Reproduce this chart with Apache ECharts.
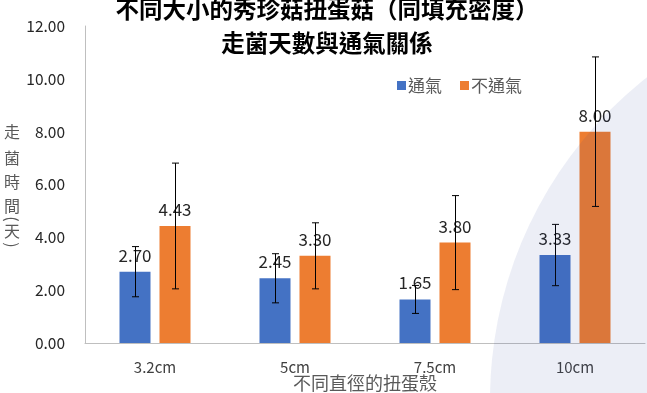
<!DOCTYPE html>
<html><head><meta charset="utf-8">
<style>html,body{margin:0;padding:0;background:#fff}#c{width:647px;height:393px}</style>
<script src="https://cdn.jsdelivr.net/npm/echarts@6/dist/echarts.min.js"></script>
</head><body><div id="c"></div>
<script>
const categories = ['3.2cm', '5cm', '7.5cm', '10cm'];
const ventilated = [2.70, 2.45, 1.65, 3.33];
const unventilated = [4.43, 3.30, 3.80, 8.00];
const ventilatedErr = [0.95, 0.93, 0.53, 1.16];
const unventilatedErr = [2.38, 1.25, 1.78, 2.83];
const yTicks = [0, 2, 4, 6, 8, 10, 12];
const seriesNames = ['通氣', '不通氣'];

const chart = echarts.init(document.getElementById('c'));
const BAR_W = 31, BAR_GAP = 9;
const font = '"Noto Sans CJK TC", "Noto Sans", sans-serif';

function errSeries(vals, errs, dir) {
  return {
    type: 'custom', z: 10, silent: true,
    data: vals.map((v, i) => [i, v - errs[i], v + errs[i]]),
    renderItem: function (params, api) {
      const lo = api.coord([api.value(0), api.value(1)]);
      const hi = api.coord([api.value(0), api.value(2)]);
      const x = Math.round(lo[0] + dir * (BAR_W + BAR_GAP) / 2) + 0.5;
      const cap = 3.5;
      const st = { stroke: '#000', lineWidth: 1 };
      return { type: 'group', children: [
        { type: 'line', shape: { x1: x, y1: hi[1], x2: x, y2: lo[1] }, style: st },
        { type: 'line', shape: { x1: x - cap, y1: hi[1], x2: x + cap, y2: hi[1] }, style: st },
        { type: 'line', shape: { x1: x - cap, y1: lo[1], x2: x + cap, y2: lo[1] }, style: st }
      ]};
    }
  };
}

const labelStyle = { show: true, position: 'top', distance: 8, fontSize: 17, color: '#262626', fontFamily: font,
  formatter: p => p.value.toFixed(2) };

// y-axis title written vertically; brackets are rotated to their vertical form
const yNameChars = [['走', 132, 0], ['菌', 158, 0], ['時', 182, 0], ['間', 206, 0], ['(', 219, -Math.PI / 2], ['天', 231, 0], [')', 245, -Math.PI / 2]];

const graphics = yNameChars.map(([ch, y, rot]) => ({
  type: 'text', x: 12, y: y, rotation: rot, silent: true,
  style: { text: ch, fontSize: 16, fill: '#595959', fontFamily: font, align: 'center', verticalAlign: 'middle' }
}));
graphics.push({
  type: 'circle', silent: true, z: 100,
  shape: { cx: 900, cy: 400, r: 410 },
  style: { fill: 'rgba(40,70,150,0.09)' }
});

chart.setOption({
  animation: false,
  title: {
    text: '不同大小的秀珍菇扭蛋菇（同填充密度）\n走菌天數與通氣關係',
    left: 322, textAlign: 'center', top: -13,
    textStyle: { fontSize: 23.5, fontWeight: 'bold', color: '#000', fontFamily: font, lineHeight: 34 }
  },
  legend: {
    data: seriesNames, left: 392, top: 72, itemWidth: 9, itemHeight: 9, itemGap: 18,
    icon: 'rect',
    textStyle: { fontSize: 17, color: '#595959', fontFamily: font, padding: [0, 0, 0, -3] }
  },
  grid: { left: 85, right: 2, top: 26, bottom: 50, outerBoundsMode: 'none', containLabel: false },
  xAxis: {
    type: 'category', data: categories,
    axisLine: { lineStyle: { color: '#bfbfbf', width: 1 } },
    axisTick: { show: false },
    axisLabel: { fontSize: 15, color: '#404040', fontFamily: font, margin: 17 },
    name: '不同直徑的扭蛋殼', nameLocation: 'middle', nameGap: 31, nameMoveOverlap: false,
    nameTextStyle: { fontSize: 18, color: '#595959', fontFamily: font, lineHeight: 18 }
  },
  yAxis: {
    type: 'value', min: yTicks[0], max: yTicks[yTicks.length - 1], interval: 2,
    splitLine: { show: false },
    axisLine: { show: true, lineStyle: { color: '#bfbfbf', width: 1 } },
    axisTick: { show: false },
    axisLabel: { fontSize: 15.5, color: '#262626', fontFamily: font, margin: 20, formatter: v => v.toFixed(2) }
  },
  graphic: graphics,
  series: [
    { name: seriesNames[0], type: 'bar', data: ventilated, barWidth: BAR_W, barGap: (BAR_GAP / BAR_W * 100) + '%',
      itemStyle: { color: '#4472C4' }, label: labelStyle },
    { name: seriesNames[1], type: 'bar', data: unventilated, barWidth: BAR_W,
      itemStyle: { color: '#ED7D31' }, label: labelStyle },
    errSeries(ventilated, ventilatedErr, -1),
    errSeries(unventilated, unventilatedErr, 1)
  ]
});
</script></body></html>
